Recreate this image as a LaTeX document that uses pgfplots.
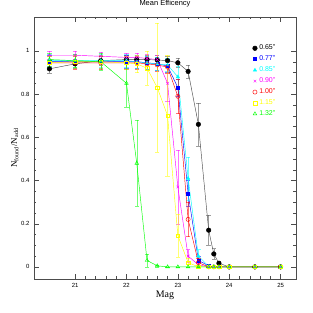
\documentclass[border=0pt]{standalone}
\usepackage{fontspec}
\setmainfont{Liberation Sans}
\newfontfamily\serif{Liberation Serif}
\usepackage{pgfplots}
\pgfplotsset{compat=1.18}
\usepackage{pgfplotstable}

\pgfplotstableread{
x y e
20.5 0.917 0.02
21.0 0.940 0.02
21.5 0.955 0.02
22.0 0.960 0.02
22.2 0.960 0.02
22.4 0.960 0.02
22.6 0.958 0.02
22.8 0.955 0.02
23.0 0.945 0.02
23.2 0.905 0.03
23.4 0.660 0.10
23.6 0.170 0.07
23.7 0.060 0.025
23.8 0.017 0.01
24.0 0.0 0.0
24.5 0.0 0.0
25.0 0.0 0.0
}\tblack
\pgfplotstableread{
x y e
20.5 0.950 0.03
21.0 0.950 0.03
21.5 0.950 0.03
22.0 0.950 0.03
22.2 0.950 0.03
22.4 0.945 0.03
22.6 0.940 0.03
22.8 0.930 0.03
23.0 0.830 0.04
23.2 0.340 0.06
23.4 0.030 0.02
23.6 0.005 0.005
23.7 0.0 0.0
23.8 0.0 0.0
24.0 0.0 0.0
24.5 0.0 0.0
25.0 0.0 0.0
}\tblue
\pgfplotstableread{
x y e
20.5 0.955 0.03
21.0 0.955 0.03
21.5 0.955 0.03
22.0 0.955 0.03
22.2 0.950 0.03
22.4 0.945 0.03
22.6 0.940 0.03
22.8 0.935 0.03
23.0 0.880 0.05
23.2 0.410 0.10
23.4 0.050 0.03
23.6 0.003 0.003
23.7 0.0 0.0
23.8 0.0 0.0
24.0 0.0 0.0
24.5 0.0 0.0
25.0 0.0 0.0
}\tcyan
\pgfplotstableread{
x y e
20.5 0.980 0.02
21.0 0.980 0.02
21.5 0.975 0.02
22.0 0.970 0.02
22.2 0.970 0.02
22.4 0.965 0.02
22.6 0.960 0.02
22.8 0.850 0.085
23.0 0.370 0.17
23.2 0.050 0.03
23.4 0.010 0.01
23.6 0.0 0.0
23.7 0.0 0.0
23.8 0.0 0.0
24.0 0.0 0.0
24.5 0.0 0.0
25.0 0.0 0.0
}\tmag
\pgfplotstableread{
x y e
20.5 0.945 0.03
21.0 0.945 0.03
21.5 0.945 0.03
22.0 0.945 0.03
22.2 0.945 0.03
22.4 0.940 0.03
22.6 0.935 0.03
22.8 0.925 0.03
23.0 0.790 0.08
23.2 0.220 0.08
23.4 0.020 0.02
23.6 0.0 0.0
23.7 0.0 0.0
23.8 0.0 0.0
24.0 0.0 0.0
24.5 0.0 0.0
25.0 0.0 0.0
}\tred
\pgfplotstableread{
x y e
20.5 0.945 0.03
21.0 0.950 0.03
21.5 0.950 0.03
22.0 0.945 0.03
22.2 0.940 0.04
22.4 0.920 0.08
22.6 0.830 0.30
22.8 0.700 0.28
23.0 0.145 0.10
23.2 0.020 0.02
23.4 0.0 0.0
23.6 0.0 0.0
23.7 0.0 0.0
23.8 0.0 0.0
24.0 0.0 0.0
24.5 0.0 0.0
25.0 0.0 0.0
}\tyel
\pgfplotstableread{
x y e
20.5 0.960 0.03
21.0 0.955 0.03
21.5 0.950 0.04
22.0 0.850 0.11
22.2 0.480 0.20
22.4 0.030 0.03
22.6 0.005 0.005
22.8 0.0 0.0
23.0 0.0 0.0
23.2 0.0 0.0
23.4 0.0 0.0
23.6 0.0 0.0
23.7 0.0 0.0
23.8 0.0 0.0
24.0 0.0 0.0
24.5 0.0 0.0
25.0 0.0 0.0
}\tgreen

\definecolor{cblue}{RGB}{0,0,255}
\definecolor{ccyan}{RGB}{0,255,255}
\definecolor{cmag}{RGB}{255,0,255}
\definecolor{cred}{RGB}{255,0,0}
\definecolor{cyel}{RGB}{255,255,0}
\definecolor{cgreen}{RGB}{0,255,0}

\begin{document}
\begin{tikzpicture}
\begin{axis}[
  scale only axis,
  width=262bp, height=262bp,
  xmin=20.2, xmax=25.3,
  ymin=-0.056, ymax=1.157,
  xtick={21,22,23,24,25},
  ytick={0,0.2,0.4,0.6,0.8,1},
  minor x tick num=4,
  minor y tick num=3,
  tick align=inside,
  major tick length=5bp,
  minor tick length=2.5bp,
  tick style={black!70, line width=0.4pt},
  axis line style={black!70, line width=0.5pt},
  /pgf/number format/assume math mode=true,
  tick label style={font=\fontsize{6}{7}\selectfont},
  xticklabel style={yshift=-1bp},
  yticklabel style={xshift=-1bp},
  title={Mean Efficency},
  title style={font=\fontsize{7.5}{8.5}\selectfont, yshift=0bp},
  xlabel={\serif Mag},
  xlabel style={font=\fontsize{10}{11}\selectfont, yshift=4bp},
  ylabel={\serif N\textsubscript{found}/N\textsubscript{add}},
  ylabel style={font=\fontsize{9}{10}\selectfont, yshift=-4bp},
  legend style={draw=none, fill=none, at={(0.83,0.905)}, anchor=north west,
    font=\fontsize{7}{8}\selectfont, row sep=0.6bp, inner sep=1bp},
  legend cell align=left,
  legend image code/.code={\draw[#1] plot[only marks] coordinates {(0.1cm,0cm)};},
  every axis plot/.append style={line width=0.45pt},
  error bars/y dir=both, error bars/y explicit,
  error bars/error mark options={rotate=90, mark size=2.2bp, line width=0.4pt},
  error bars/error bar style={line width=0.4pt, opacity=0.55},
]
\addplot[black!70, mark=*, mark size=2.3bp, mark options={black, fill=black}]
  table[x=x, y=y, y error=e] {\tblack};
\addlegendentry{\textcolor{black}{0.65''}}
\addplot[cblue, mark=square*, mark size=1.5bp, mark options={cblue, fill=cblue}]
  table[x=x, y=y, y error=e] {\tblue};
\addlegendentry{\textcolor{cblue}{0.77''}}
\addplot[ccyan, mark=triangle*, mark size=1.9bp, mark options={ccyan, fill=ccyan}]
  table[x=x, y=y, y error=e] {\tcyan};
\addlegendentry{\textcolor{ccyan}{0.85''}}
\addplot[cmag, mark=x, mark size=1.8bp, mark options={cmag}]
  table[x=x, y=y, y error=e] {\tmag};
\addlegendentry{\textcolor{cmag}{0.90''}}
\addplot[cred, mark=o, mark size=2.1bp, mark options={cred}]
  table[x=x, y=y, y error=e] {\tred};
\addlegendentry{\textcolor{cred}{1.00''}}
\addplot[cyel, mark=square, mark size=1.8bp, mark options={cyel}]
  table[x=x, y=y, y error=e] {\tyel};
\addlegendentry{\textcolor{cyel}{1.15''}}
\addplot[cgreen, mark=triangle, mark size=2.1bp, mark options={cgreen}]
  table[x=x, y=y, y error=e] {\tgreen};
\addlegendentry{\textcolor{cgreen}{1.32''}}
\end{axis}
\pgfresetboundingbox
\path[use as bounding box] ([shift={(-34bp,-34bp)}]current axis.south west) rectangle ([shift={(17bp,17bp)}]current axis.north east);
\end{tikzpicture}
\end{document}
